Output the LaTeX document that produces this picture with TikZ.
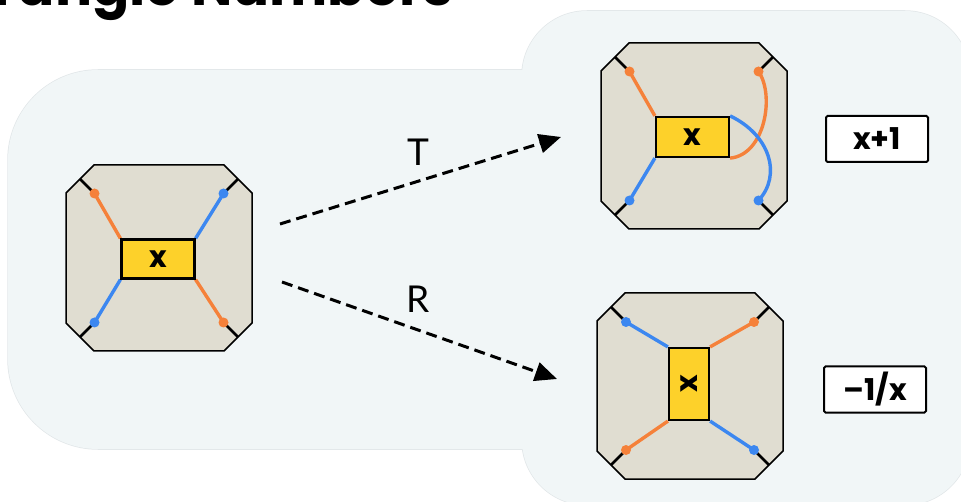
\documentclass[tikz,border=0pt]{standalone}
\usepackage{fontspec}
\setmainfont{Lato}
\newfontfamily\popfont{Poppins}
\usetikzlibrary{arrows.meta}
\definecolor{bgfill}{HTML}{F1F6F7}
\definecolor{panelline}{HTML}{E2E7E9}
\definecolor{tilefill}{HTML}{E0DDD1}
\definecolor{boxyellow}{HTML}{FDD12A}
\definecolor{strandorange}{HTML}{F5813A}
\definecolor{strandblue}{HTML}{3C87F0}
\pgfdeclarelayer{panel}
\pgfdeclarelayer{tiles}
\pgfdeclarelayer{strands}
\pgfsetlayers{panel,tiles,strands,main}
\tikzset{
  tilearea/.style={inner sep=0pt, minimum width=186pt, minimum height=186pt},
  tileshape/.style={draw=black, line width=1.5pt, fill=tilefill, line join=miter},
  xbox/.style={draw=black, line width=2.2pt, fill=boxyellow, inner sep=0pt,
    font=\popfont\bfseries\fontsize{30}{30}\selectfont},
  xlabel/.style={inner sep=0pt, font=\popfont\bfseries\fontsize{30}{30}\selectfont},
  dotO/.style={circle, fill=strandorange, inner sep=0pt, minimum size=10pt},
  dotB/.style={circle, fill=strandblue, inner sep=0pt, minimum size=10pt},
  strandO/.style={draw=strandorange, line width=3.4pt},
  strandB/.style={draw=strandblue, line width=3.4pt},
  tickline/.style={draw=black, line width=2.6pt},
  maparrow/.style={draw=black, line width=3pt, dash pattern=on 11pt off 6pt,
    -{Triangle[length=22pt,width=19pt]}},
  maplabel/.style={font=\fontsize{37}{37}\selectfont, inner sep=0pt},
  resultbox/.style={draw=black, line width=2pt, fill=white, rounded corners=1.5pt,
    minimum width=102pt, minimum height=46pt, inner sep=0pt,
    font=\popfont\bfseries\fontsize{30}{30}\selectfont},
}
\newcommand\octatile{%
  \path[tileshape] (-65,-93) -- (65,-93) -- (93,-65) -- (93,65) -- (65,93)
    -- (-65,93) -- (-93,65) -- (-93,-65) -- cycle;}
\begin{document}
\begin{tikzpicture}[x=1pt,y=-1pt]
\useasboundingbox (0,0) rectangle (961,502);
\clip (0,0) rectangle (961,502);

% background panel
\begin{pgfonlayer}{panel}
\draw[panelline, line width=1.5pt, rounded corners=90pt] (8,70) rectangle (720,449);
\draw[panelline, line width=1.5pt, rounded corners=65pt] (522,11) rectangle (970,505);
\fill[bgfill, rounded corners=90pt] (8,70) rectangle (720,449);
\fill[bgfill, rounded corners=65pt] (522,11) rectangle (970,505);
\end{pgfonlayer}

% title (cut by the top edge)
\node[anchor=base west, inner sep=0pt, font=\popfont\bfseries\fontsize{55}{55}\selectfont] (title) at (-15,6) {Tangle Numbers};

% ---- tile A (left) ----
\begin{scope}[shift={(159,258)}]
\begin{pgfonlayer}{tiles}
\node[tilearea] (tA) at (0,0) {};
\octatile
\end{pgfonlayer}
\node[xbox, minimum width=73pt, minimum height=39pt] (xA) at (-1,1) {x};
\node[dotO] (A1) at (-64.5,-64.5) {};
\node[dotB] (A2) at (64.5,-64.5) {};
\node[dotB] (A3) at (-64.5,64.5) {};
\node[dotO] (A4) at (64.5,64.5) {};
\coordinate (A1e) at (-79,-79);
\coordinate (A2e) at (79,-79);
\coordinate (A3e) at (-79,79);
\coordinate (A4e) at (79,79);
\end{scope}
\begin{pgfonlayer}{strands}
\draw[tickline] (A1.center) -- (A1e);
\draw[tickline] (A2.center) -- (A2e);
\draw[tickline] (A3.center) -- (A3e);
\draw[tickline] (A4.center) -- (A4e);
\draw[strandO] (A1.center) -- (xA.north west);
\draw[strandB] (A2.center) -- (xA.north east);
\draw[strandB] (A3.center) -- (xA.south west);
\draw[strandO] (A4.center) -- (xA.south east);
\end{pgfonlayer}

% ---- tile B (top right, T) ----
\begin{scope}[shift={(694,136)}]
\begin{pgfonlayer}{tiles}
\node[tilearea] (tB) at (0,0) {};
\octatile
\end{pgfonlayer}
\node[xbox, minimum width=73pt, minimum height=40pt] (xB) at (-1.5,1) {x};
\node[dotO] (B1) at (-64.5,-64.5) {};
\node[dotO] (B2) at (64.5,-64.5) {};
\node[dotB] (B3) at (-64.5,64.5) {};
\node[dotB] (B4) at (64.5,64.5) {};
\coordinate (B1e) at (-79,-79);
\coordinate (B2e) at (79,-79);
\coordinate (B3e) at (-79,79);
\coordinate (B4e) at (79,79);
\end{scope}
\begin{pgfonlayer}{strands}
\draw[tickline] (B1.center) -- (B1e);
\draw[tickline] (B2.center) -- (B2e);
\draw[tickline] (B3.center) -- (B3e);
\draw[tickline] (B4.center) -- (B4e);
\draw[strandO] (B1.center) -- (xB.north west);
\draw[strandB] (B3.center) -- (xB.south west);
\draw[strandO] (xB.south east) .. controls (765,155) and (775,95) .. (B2.center);
\draw[strandB] (xB.north east) .. controls (770,135) and (782,175) .. (B4.center);
\end{pgfonlayer}

% ---- tile C (bottom right, R) ----
\begin{scope}[shift={(690,386)}]
\begin{pgfonlayer}{tiles}
\node[tilearea] (tC) at (0,0) {};
\octatile
\end{pgfonlayer}
\node[xbox, minimum width=40pt, minimum height=72pt] (xC) at (-1,-2) {};
\node[xlabel, rotate=90] (xCl) at (xC.center) {x};
\node[dotB] (C1) at (-64,-64) {};
\node[dotO] (C2) at (64,-64) {};
\node[dotO] (C3) at (-64,64) {};
\node[dotB] (C4) at (64,64) {};
\coordinate (C1e) at (-79,-79);
\coordinate (C2e) at (79,-79);
\coordinate (C3e) at (-79,79);
\coordinate (C4e) at (79,79);
\end{scope}
\begin{pgfonlayer}{strands}
\draw[tickline] (C1.center) -- (C1e);
\draw[tickline] (C2.center) -- (C2e);
\draw[tickline] (C3.center) -- (C3e);
\draw[tickline] (C4.center) -- (C4e);
\draw[strandB] (C1.center) -- (xC.north west);
\draw[strandO] (C2.center) -- (xC.north east);
\draw[strandO] (C3.center) -- (xC.south west);
\draw[strandB] (C4.center) -- (xC.south east);
\end{pgfonlayer}

% ---- arrows ----
\coordinate (Tstart) at (280,224);
\coordinate (Tend) at (561,137);
\coordinate (Rstart) at (282,282);
\coordinate (Rend) at (557,379);
\draw[maparrow] (Tstart) -- (Tend);
\draw[maparrow] (Rstart) -- (Rend);
\node[maplabel] (Tlab) at (418,152) {T};
\node[maplabel] (Rlab) at (418,299) {R};

% ---- results ----
\node[resultbox] (res1) at (877,139) {x+1};
\node[resultbox] (res2) at (875,389.5) {\char"2013 1/x};
\end{tikzpicture}
\end{document}
